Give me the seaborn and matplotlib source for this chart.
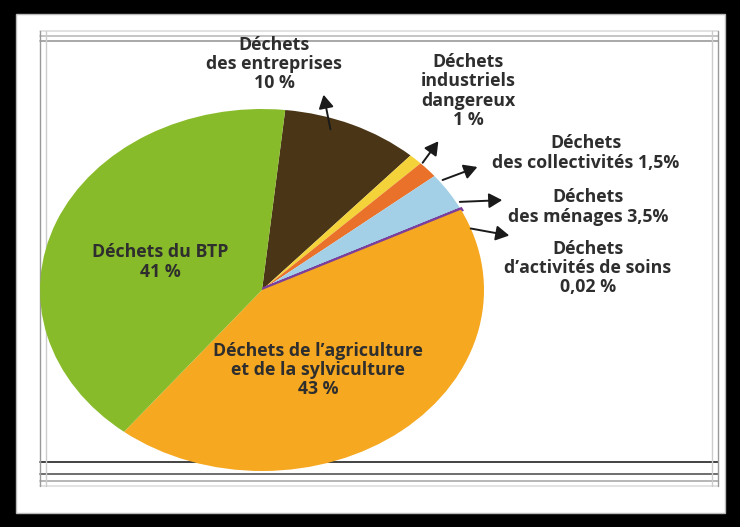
import matplotlib
matplotlib.use("Agg")
import matplotlib.pyplot as plt
import matplotlib.patches as mpatches
from matplotlib.lines import Line2D
import seaborn as sns

sns.set_theme(style="white")
plt.rcParams['font.family'] = ['Open Sans', 'DejaVu Sans']

categories = ["Déchets\ndes entreprises\n10 %",
              "Déchets\nindustriels\ndangereux\n1 %",
              "Déchets\ndes collectivités 1,5%",
              "Déchets\ndes ménages 3,5%",
              "Déchets\nd’activités de soins\n0,02 %",
              "Déchets de l’agriculture\net de la sylviculture\n43 %",
              "Déchets du BTP\n41 %"]
values = [10, 1, 1.5, 3.5, 0.02, 43, 41]
colors = sns.color_palette(["#4a3616", "#f4d23a", "#e9712a", "#a3d0e6",
                            "#7b3f9e", "#f6a820", "#88bb29"])

fig = plt.figure(figsize=(7.4, 5.27), dpi=100)
fig.patch.set_facecolor("black")

W, H = 740, 527
def fx(x): return x / W
def fy(y): return 1 - y / H

# white panel
fig.patches.append(mpatches.Rectangle((fx(16), fy(513)), (725 - 16) / W, (513 - 14) / H,
                                      transform=fig.transFigure, facecolor="white",
                                      edgecolor="#bbbbbb", lw=1, zorder=0))
# inner frame lines
for y, c in [(31, "#dddddd"), (36, "#bbbbbb"), (41, "#999999"), (462, "#222222"),
             (474, "#555555"), (481, "#aaaaaa"), (486, "#dddddd")]:
    fig.add_artist(Line2D([fx(40), fx(718)], [fy(y), fy(y)], transform=fig.transFigure,
                          color=c, lw=1.2, zorder=1))
for x, c in [(40, "#999999"), (46, "#cccccc"), (712, "#cccccc"), (718, "#999999")]:
    fig.add_artist(Line2D([fx(x), fx(x)], [fy(31), fy(486)], transform=fig.transFigure,
                          color=c, lw=1.0, zorder=1))

# pie axes (elliptical pie)
cx, cy, rx, ry = 262, 290, 222, 181
ax = fig.add_axes([fx(cx - rx), fy(cy + ry), 2 * rx / W, 2 * ry / H])
wedges, _ = ax.pie(values, colors=colors, startangle=84, counterclock=False,
                   wedgeprops=dict(linewidth=0))
wedges[4].set_edgecolor("#7b3f9e")
wedges[4].set_linewidth(3)
ax.set_aspect("auto")
ax.set_xlim(-1, 1)
ax.set_ylim(-1, 1)
ax.axis("off")
ax.set_zorder(2)

tk = dict(ha="center", va="center", fontsize=12.8, fontweight="bold",
          color="#2e2e2e", linespacing=1.1, transform=fig.transFigure, zorder=5)

def arrow(x0, y0, x1, y1):
    fig.add_artist(mpatches.FancyArrowPatch((fx(x0), fy(y0)), (fx(x1), fy(y1)),
                                            transform=fig.transFigure,
                                            arrowstyle="-|>,head_length=8,head_width=4.5",
                                            color="#1a1a1a", lw=1.4, zorder=6))

fig.text(fx(274), fy(64), categories[0], **tk)
arrow(331, 132, 323, 92)
fig.text(fx(468), fy(91), categories[1], **tk)
arrow(421, 165, 440, 139)
fig.text(fx(586), fy(153), categories[2], **tk)
arrow(440, 181, 480, 166)
fig.text(fx(588), fy(207), categories[3], **tk)
arrow(457, 202, 505, 200)
fig.text(fx(588), fy(268), categories[4], **tk)
arrow(468, 228, 512, 236)
fig.text(fx(318), fy(370), categories[5], **tk)
fig.text(fx(160), fy(262), categories[6], **tk)

fig.savefig("out.png", dpi=100, facecolor=fig.get_facecolor())
